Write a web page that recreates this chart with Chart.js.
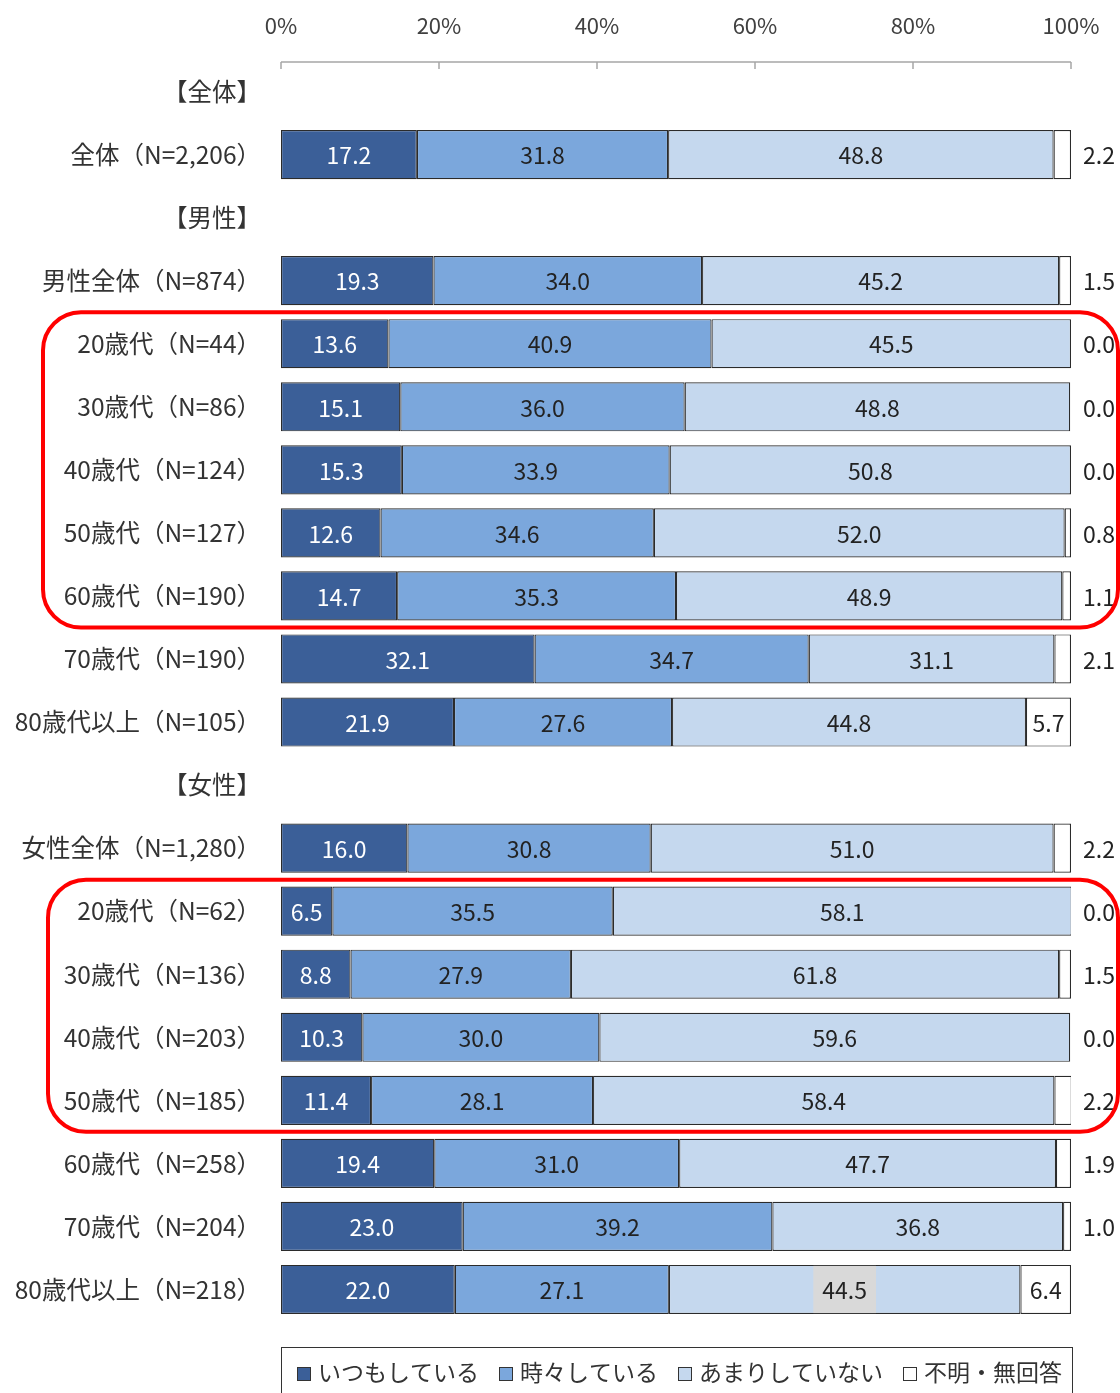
<!DOCTYPE html>
<html lang="ja">
<head>
    <meta charset="UTF-8">
    <title>頻度</title>
    <style>
        body { margin: 0; background: #fff; }
        .chart-container { width: 1120px; height: 1393px; position: relative; }
    </style>
</head>
<body>
    <div class="chart-container">
        <canvas id="freqChart"></canvas>
    </div>
    <script src="https://cdn.jsdelivr.net/npm/chart.js"></script>
    <script>
        // categorias (linhas do gráfico)
        const categorias = [
            '【全体】', '全体（N=2,206）',
            '【男性】', '男性全体（N=874）',
            '20歳代（N=44）', '30歳代（N=86）', '40歳代（N=124）', '50歳代（N=127）',
            '60歳代（N=190）', '70歳代（N=190）', '80歳代以上（N=105）',
            '【女性】', '女性全体（N=1,280）',
            '20歳代（N=62）', '30歳代（N=136）', '40歳代（N=203）', '50歳代（N=185）',
            '60歳代（N=258）', '70歳代（N=204）', '80歳代以上（N=218）'
        ];
        const series = ['いつもしている', '時々している', 'あまりしていない', '不明・無回答'];
        const itsumo   = [null, 17.2, null, 19.3, 13.6, 15.1, 15.3, 12.6, 14.7, 32.1, 21.9, null, 16.0, 6.5, 8.8, 10.3, 11.4, 19.4, 23.0, 22.0];
        const tokidoki = [null, 31.8, null, 34.0, 40.9, 36.0, 33.9, 34.6, 35.3, 34.7, 27.6, null, 30.8, 35.5, 27.9, 30.0, 28.1, 31.0, 39.2, 27.1];
        const amari    = [null, 48.8, null, 45.2, 45.5, 48.8, 50.8, 52.0, 48.9, 31.1, 44.8, null, 51.0, 58.1, 61.8, 59.6, 58.4, 47.7, 36.8, 44.5];
        const fumei    = [null, 2.2, null, 1.5, 0.0, 0.0, 0.0, 0.8, 1.1, 2.1, 5.7, null, 2.2, 0.0, 1.5, 0.0, 2.2, 1.9, 1.0, 6.4];
        const xTicks = [0, 20, 40, 60, 80, 100];

        const cores = ['#3b5f98', '#7ba7dc', '#c5d8ee', '#ffffff'];
        const FONT = '"Noto Sans CJK JP", "Noto Sans", sans-serif';
        // grupos destacados com borda vermelha [primeira linha, última linha, x esquerdo]
        const grupos = [[4, 8, 43], [13, 16, 48]];
        const destaque = [[2, 19]]; // célula com fundo cinza

        const valores = [itsumo, tokidoki, amari, fumei];

        const rotulosPlugin = {
            id: 'rotulos',
            afterDatasetsDraw(chart) {
                const ctx = chart.ctx;
                const area = chart.chartArea;
                ctx.save();
                ctx.font = '23px ' + FONT;
                ctx.textBaseline = 'middle';
                ctx.textAlign = 'center';
                chart.data.datasets.forEach((ds, i) => {
                    const meta = chart.getDatasetMeta(i);
                    ds.data.forEach((v, j) => {
                        if (v === null) return;
                        const bar = meta.data[j];
                        const txt = v.toFixed(1);
                        let x = (bar.x + bar.base) / 2;
                        if (i === 3 && v < 5) x = area.right + 28;
                        if (destaque.some(d => d[0] === i && d[1] === j)) {
                            const w = ctx.measureText(txt).width + 18;
                            ctx.fillStyle = '#d9d9d9';
                            ctx.fillRect(x - w / 2, bar.y - bar.height / 2 + 1, w, bar.height - 2);
                        }
                        ctx.fillStyle = i === 0 ? '#ffffff' : '#222222';
                        ctx.fillText(txt, x, bar.y + 1);
                    });
                });
                ctx.restore();
            }
        };

        const eixoPlugin = {
            id: 'eixo',
            afterDraw(chart) {
                const ctx = chart.ctx;
                const xs = chart.scales.x;
                const ys = chart.scales.y;
                const area = chart.chartArea;
                ctx.save();
                // linha do eixo com marcas para baixo
                ctx.strokeStyle = '#a6a6a6';
                ctx.lineWidth = 1.5;
                ctx.beginPath();
                ctx.moveTo(area.left, 62);
                ctx.lineTo(area.right, 62);
                xTicks.forEach(t => {
                    const px = xs.getPixelForValue(t);
                    ctx.moveTo(px, 62);
                    ctx.lineTo(px, 69);
                });
                ctx.stroke();

                // bordas vermelhas
                ctx.strokeStyle = '#ff0000';
                ctx.lineWidth = 4;
                const passo = ys.getPixelForValue(1) - ys.getPixelForValue(0);
                grupos.forEach(g => {
                    const top = ys.getPixelForValue(g[0]) - passo / 2;
                    const bottom = ys.getPixelForValue(g[1]) + passo / 2;
                    ctx.beginPath();
                    ctx.roundRect(g[2], top, 1118 - g[2], bottom - top, 38);
                    ctx.stroke();
                });

                // legenda
                const lTop = 1347;
                ctx.strokeStyle = '#333';
                ctx.lineWidth = 1;
                ctx.strokeRect(area.left + 0.5, lTop + 0.5, area.right - area.left + 1, 60);
                ctx.font = '23px ' + FONT;
                ctx.textBaseline = 'middle';
                ctx.textAlign = 'left';
                let x = 297;
                series.forEach((s, i) => {
                    ctx.fillStyle = cores[i];
                    ctx.fillRect(x, 1367, 14, 14);
                    ctx.strokeStyle = '#333';
                    ctx.strokeRect(x + 0.5, 1367.5, 13, 13);
                    ctx.fillStyle = '#333';
                    ctx.fillText(s, x + 21, 1372);
                    x += 21 + ctx.measureText(s).width + 20;
                });
                ctx.restore();
            }
        };

        const ctx = document.getElementById('freqChart').getContext('2d');
        new Chart(ctx, {
            type: 'bar',
            data: {
                labels: categorias,
                datasets: series.map((s, i) => ({
                    label: s,
                    data: valores[i],
                    backgroundColor: cores[i],
                    borderColor: '#2b2b2b',
                    borderWidth: 1.2,
                    borderSkipped: false,
                    categoryPercentage: 1,
                    barPercentage: 0.78
                }))
            },
            options: {
                indexAxis: 'y',
                responsive: true,
                maintainAspectRatio: false,
                animation: false,
                layout: { padding: { top: 0, right: 49, bottom: 72, left: 0 } },
                plugins: {
                    legend: { display: false },
                    tooltip: { enabled: false }
                },
                scales: {
                    x: {
                        position: 'top',
                        stacked: true,
                        min: 0,
                        max: 100,
                        afterBuildTicks: scale => { scale.ticks = xTicks.map(v => ({ value: v })); },
                        afterFit: scale => { scale.height = 60; },
                        grid: { display: false },
                        border: { display: false },
                        ticks: {
                            callback: v => v + '%',
                            color: '#404040',
                            padding: 13,
                            maxRotation: 0,
                            font: { family: FONT, size: 22 }
                        }
                    },
                    y: {
                        stacked: true,
                        afterFit: scale => { scale.width = 281; },
                        grid: { display: false },
                        border: { display: false },
                        ticks: {
                            color: '#333',
                            padding: 12,
                            autoSkip: false,
                            font: { family: FONT, size: 24.5 }
                        }
                    }
                }
            },
            plugins: [rotulosPlugin, eixoPlugin]
        });
    </script>
</body>
</html>
